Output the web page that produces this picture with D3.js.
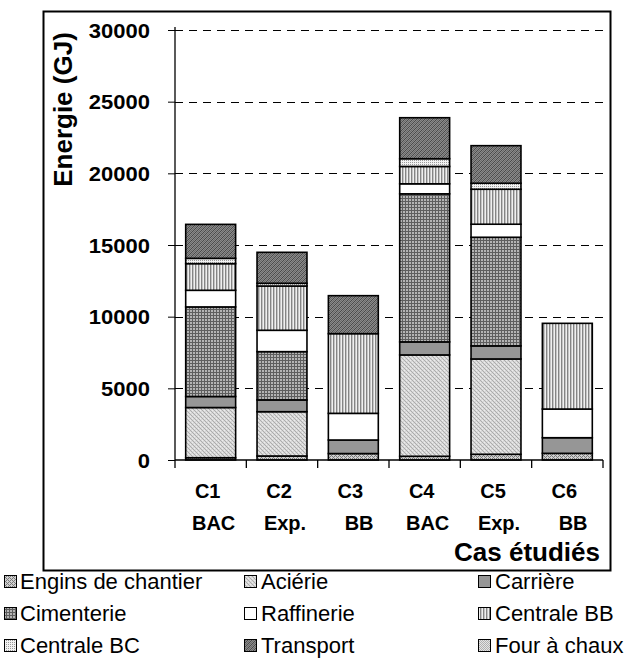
<!DOCTYPE html>
<html><head><meta charset="utf-8">
<script src="https://cdn.jsdelivr.net/npm/d3@7"></script>
<style>body{margin:0;background:#fff}svg{display:block}text{font-family:"Liberation Sans",Arial,sans-serif;white-space:pre}</style>
</head><body>
<script>
const categories = ["C1","C2","C3","C4","C5","C6"];
const categoryLine2 = ["BAC","Exp."," BB","BAC","Exp."," BB"];
const seriesNames = ["Engins de chantier","Aciérie","Carrière","Cimenterie","Raffinerie","Centrale BB","Centrale BC","Transport","Four à chaux"];
const engins     = [160, 280, 450, 260, 400, 465];
const acierie    = [3500, 3090, 0, 7070, 6650, 0];
const carriere   = [770, 820, 945, 910, 910, 1090];
const cimenterie = [6250, 3370, 0, 10330, 7580, 0];
const raffinerie = [1160, 1490, 1860, 700, 910, 2000];
const centraleBB = [1860, 3090, 5560, 1210, 2440, 5980];
const centraleBC = [370, 190, 0, 540, 420, 0];
const transport  = [2370, 2160, 2650, 2860, 2620, 0];
const fourChaux  = [0, 0, 0, 0, 0, 0];
const yTicks = [0,5000,10000,15000,20000,25000,30000];

const seriesValues = [engins, acierie, carriere, cimenterie, raffinerie, centraleBB, centraleBC, transport, fourChaux];
const keys = seriesNames;
const table = categories.map((c,i)=>{const o={cat:c}; keys.forEach((k,j)=>o[k]=seriesValues[j][i]); return o;});

const W=634,H=666;
const svg=d3.select("body").append("svg").attr("width",W).attr("height",H);
const defs=svg.append("defs");

function stretch(sel,f){sel.each(function(){const l=this.getComputedTextLength();d3.select(this).attr("textLength",l*f).attr("lengthAdjust","spacingAndGlyphs");});}

function pat(id,w,h,bg,draw){
  const p=defs.append("pattern").attr("id",id).attr("patternUnits","userSpaceOnUse").attr("width",w).attr("height",h);
  p.append("rect").attr("width",w).attr("height",h).attr("fill",bg);
  draw(p);
}
function px(p,pts,c){pts.forEach(d=>p.append("rect").attr("x",d[0]).attr("y",d[1]).attr("width",1).attr("height",1).attr("fill",c));}
// Engins: checker dots
pat("p0",4,4,"#d0d0d0",p=>{px(p,[[0,0],[1,1],[2,2],[3,3],[2,0],[0,2]],"#7a7a7a");});
// Aciérie: light fine texture
pat("p1",4,4,"#d8d8d8",p=>{px(p,[[0,0],[1,1],[2,2],[3,3]],"#acacac");px(p,[[2,0],[0,2]],"#ececec");});
// Carrière solid
pat("p2",4,4,"#969696",p=>{});
// Cimenterie grid
pat("p3",3,3,"#b4b4b4",p=>{p.append("rect").attr("width",3).attr("height",1).attr("fill","#5e5e5e");p.append("rect").attr("width",1).attr("height",3).attr("fill","#5e5e5e");});
// Raffinerie white
pat("p4",4,4,"#ffffff",p=>{});
// Centrale BB vertical stripes
pat("p5",3,3,"#f0f0f0",p=>{p.append("rect").attr("width",1.4).attr("height",3).attr("fill","#858585");});
// Centrale BC light dots
pat("p6",2,2,"#f2f2f2",p=>{px(p,[[0,0]],"#9a9a9a");});
// Transport dark diagonal
pat("p7",4,4,"#8a8a8a",p=>{px(p,[[0,3],[1,2],[2,1],[3,0]],"#4a4a4a");px(p,[[0,1],[1,0],[2,3],[3,2]],"#6a6a6a");});
// Four à chaux light dots
pat("p8",2,2,"#e4e4e4",p=>{px(p,[[0,0],[1,1]],"#b0b0b0");});

// frame
svg.append("rect").attr("x",43.5).attr("y",11.5).attr("width",567).attr("height",559).attr("fill","none").attr("stroke","#000").attr("stroke-width",2);

const x0=175,x1=603,yTop=30,yBot=460;
const x=d3.scaleBand().domain(categories).range([x0,x1]).paddingInner(0.3).paddingOuter(0.15);
const y=d3.scaleLinear().domain([0,30000]).range([yBot,yTop]);

// gridlines
svg.append("g").selectAll("line").data(yTicks.filter(t=>t>0)).join("line")
  .attr("x1",x0).attr("x2",x1).attr("y1",d=>Math.round(y(d))+0.5).attr("y2",d=>Math.round(y(d))+0.5)
  .attr("stroke","#000").attr("stroke-width",1).attr("stroke-dasharray","8,6");

// bars
const stack=d3.stack().keys(keys)(table);
const g=svg.append("g");
stack.forEach((s,si)=>{
  g.selectAll(null).data(s.filter(d=>d[1]-d[0]>0)).join("rect")
   .attr("x",d=>x(d.data.cat)).attr("width",x.bandwidth())
   .attr("y",d=>y(d[1])).attr("height",d=>y(d[0])-y(d[1]))
   .attr("fill",`url(#p${si})`).attr("stroke","#000").attr("stroke-width",1.6);
});

// y axis
const ya=svg.append("g").attr("transform",`translate(${x0},0)`)
  .call(d3.axisLeft(y).tickValues(yTicks).tickSize(7).tickPadding(18).tickFormat(d3.format("d")));
ya.select(".domain").attr("stroke","#000").attr("stroke-width",1.3).attr("d",`M0,${yTop-3}V${yBot}`);
ya.selectAll(".tick line").attr("stroke","#000");
ya.selectAll("text").attr("font-size",20).attr("font-weight","bold").attr("fill","#000").attr("font-family","Liberation Sans, Arial, sans-serif").attr("dy","0.35em");
stretch(ya.selectAll("text"),1.1);

// x axis
const xa=svg.append("g").attr("transform",`translate(0,${yBot})`);
xa.append("line").attr("x1",x0).attr("x2",x1).attr("y1",0).attr("y2",0).attr("stroke","#000").attr("stroke-width",1.3);
d3.range(categories.length+1).forEach(i=>{
  const xx=x0+(x1-x0)/categories.length*i;
  xa.append("line").attr("x1",xx).attr("x2",xx).attr("y1",0).attr("y2",8).attr("stroke","#000").attr("stroke-width",1.3);
});
categories.forEach((c,i)=>{
  const cx=x(c)+x.bandwidth()/2;
  xa.append("text").attr("x",cx-3).attr("y",38).attr("text-anchor","middle").attr("font-size",20).attr("font-weight","bold").text(c);
  xa.append("text").attr("x",cx+3).attr("y",70).attr("text-anchor","middle").attr("font-size",20).attr("font-weight","bold").text(categoryLine2[i]);
});

// titles
svg.append("text").attr("x",600).attr("y",561).attr("text-anchor","end").attr("font-size",26).attr("font-weight","bold").text("Cas étudiés");
svg.append("text").attr("transform","translate(71.5,109.5) rotate(-90)").attr("text-anchor","middle").attr("font-size",26).attr("font-weight","bold").text("Energie (GJ)");

// legend
const legIconX=[4,244,478], legTextX=[20,261,495], legY=[575,607,639];
seriesNames.forEach((n,i)=>{
  const c=i%3, r=Math.floor(i/3);
  svg.append("rect").attr("x",legIconX[c]+0.5).attr("y",legY[r]+0.5).attr("width",12).attr("height",12).attr("fill",`url(#p${i})`).attr("stroke","#000").attr("stroke-width",1);
  svg.append("text").attr("x",legTextX[c]).attr("y",legY[r]+14).attr("font-size",22).text(n);
});
</script>
</body></html>
